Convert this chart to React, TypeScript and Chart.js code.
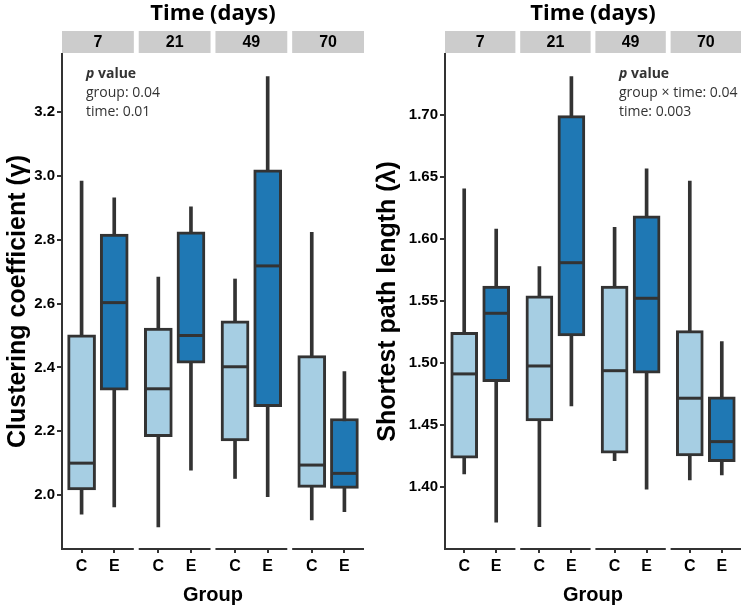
import React, { useEffect, useRef } from "react";
import { Chart, registerables } from "chart.js";

Chart.register(...registerables);

// ---------------- data ----------------
const facetLabels = ["7", "21", "49", "70"];
const groupLabels = ["C", "E"];
// order of values: 7C, 7E, 21C, 21E, 49C, 49E, 70C, 70E
const clusteringLow = [1.94, 1.963, 1.9, 2.078, 2.052, 1.995, 1.922, 1.948];
const clusteringQ1 = [2.016, 2.329, 2.183, 2.413, 2.17, 2.277, 2.024, 2.021];
const clusteringMedian = [2.1, 2.603, 2.333, 2.5, 2.402, 2.718, 2.094, 2.068];
const clusteringQ3 = [2.502, 2.818, 2.523, 2.825, 2.546, 3.019, 2.437, 2.24];
const clusteringHigh = [2.984, 2.931, 2.683, 2.903, 2.677, 3.311, 2.823, 2.387];
const clusteringTicks = [2.0, 2.2, 2.4, 2.6, 2.8, 3.0, 3.2];

const pathLow = [1.4107, 1.3718, 1.3682, 1.4656, 1.4215, 1.3984, 1.4059, 1.4099];
const pathQ1 = [1.4234, 1.4852, 1.4535, 1.522, 1.4274, 1.4919, 1.4252, 1.4207];
const pathMedian = [1.4914, 1.5403, 1.4978, 1.5811, 1.494, 1.5524, 1.4718, 1.4368];
const pathQ3 = [1.525, 1.5623, 1.5543, 1.6997, 1.5623, 1.6188, 1.5263, 1.473];
const pathHigh = [1.6406, 1.6083, 1.5779, 1.7311, 1.6097, 1.6567, 1.647, 1.5174];
const pathTicks = [1.4, 1.45, 1.5, 1.55, 1.6, 1.65, 1.7];

const clusteringNotes = [["p value"], "group: 0.04", "time: 0.01"];
const pathNotes = [["p value"], "group × time: 0.04", "time: 0.003"];

// ---------------- layout ----------------
const FACET_UNITS = 2.2;
const GAP_UNITS = 0.15;
const facetStart = (k: number) => k * (FACET_UNITS + GAP_UNITS);
const positions = facetLabels.flatMap((_, k) =>
  groupLabels.map((_, g) => facetStart(k) + 0.6 + g)
);
const X_MAX = facetStart(facetLabels.length - 1) + FACET_UNITS;

const LIGHT = "#a6cee3";
const DARK = "#1f78b4";
const LINE = "#333333";
const TEXT = "#000000";
const SANS = '"Liberation Sans", Arial, sans-serif';
const OPEN = '"Open Sans", sans-serif';

type PanelProps = {
  low: number[];
  q1: number[];
  med: number[];
  q3: number[];
  high: number[];
  ticks: number[];
  yMin: number;
  yMax: number;
  decimals: number;
  yTitle: string;
  notes: (string | string[])[];
  noteX: number;
  axisWidth: number;
  rightPad: number;
  barThickness: number;
  titlePad: number;
};

function Panel(p: PanelProps) {
  const ref = useRef<HTMLCanvasElement | null>(null);
  useEffect(() => {
    if (!ref.current) return;
    const boxColors = positions.map((_, i) => (i % 2 === 0 ? LIGHT : DARK));
    const decor = {
      id: "decor",
      afterDatasetsDraw(chart: any) {
        const { ctx, scales } = chart;
        const xs = scales.x;
        const ys = scales.y;
        ctx.save();
        ctx.strokeStyle = LINE;
        ctx.lineWidth = 3;
        positions.forEach((pos, i) => {
          const cx = xs.getPixelForValue(pos);
          const cy = ys.getPixelForValue(p.med[i]);
          ctx.beginPath();
          ctx.moveTo(cx - p.barThickness / 2 + 1, cy);
          ctx.lineTo(cx + p.barThickness / 2 - 1, cy);
          ctx.stroke();
        });
        ctx.restore();
      },
      afterDraw(chart: any) {
        const { ctx, scales, chartArea } = chart;
        const xs = scales.x;
        ctx.save();
        ctx.strokeStyle = LINE;
        ctx.lineWidth = 2;
        facetLabels.forEach((lab, k) => {
          const x0 = xs.getPixelForValue(facetStart(k));
          const x1 = xs.getPixelForValue(facetStart(k) + FACET_UNITS);
          // facet axis segment
          ctx.beginPath();
          ctx.moveTo(x0, chartArea.bottom);
          ctx.lineTo(x1, chartArea.bottom);
          ctx.stroke();
          // strip
          ctx.fillStyle = "#cccccc";
          ctx.fillRect(x0, 31, x1 - x0, 22);
          ctx.fillStyle = TEXT;
          ctx.font = `bold 16px ${SANS}`;
          ctx.textAlign = "center";
          ctx.textBaseline = "middle";
          ctx.fillText(lab, (x0 + x1) / 2, 42.5);
        });
        // top title
        ctx.fillStyle = TEXT;
        ctx.font = `bold 22px ${OPEN}`;
        ctx.textAlign = "center";
        ctx.textBaseline = "middle";
        ctx.fillText("Time (days)", (chartArea.left + chartArea.right) / 2, 14);
        // notes
        ctx.textAlign = "left";
        ctx.fillStyle = "#333333";
        p.notes.forEach((n, i) => {
          const y = 74 + i * 19;
          if (Array.isArray(n)) {
            ctx.font = `italic bold 14px ${OPEN}`;
            ctx.fillText("p", p.noteX, y);
            const w = ctx.measureText("p").width;
            ctx.font = `bold 14px ${OPEN}`;
            ctx.fillText(" value", p.noteX + w, y);
          } else {
            ctx.font = `14px ${OPEN}`;
            ctx.fillText(n, p.noteX, y);
          }
        });
        ctx.restore();
      },
    };

    const chart = new Chart(ref.current, {
      type: "bar",
      data: {
        datasets: [
          {
            label: "box",
            order: 0,
            grouped: false,
            barThickness: p.barThickness,
            data: positions.map((x, i) => ({ x, y: [p.q1[i], p.q3[i]] })) as any,
            backgroundColor: boxColors,
            borderColor: LINE,
            borderWidth: 3,
            borderSkipped: false,
          },
          {
            label: "whisker",
            order: 1,
            grouped: false,
            barThickness: 3,
            data: positions.map((x, i) => ({ x, y: [p.low[i], p.high[i]] })) as any,
            backgroundColor: LINE,
            borderWidth: 0,
          },
        ],
      },
      options: {
        animation: false,
        responsive: false,
        maintainAspectRatio: false,
        layout: { padding: { top: 54, right: p.rightPad, left: 0, bottom: 0 } },
        plugins: { legend: { display: false }, tooltip: { enabled: false } },
        scales: {
          x: {
            type: "linear",
            min: 0,
            max: X_MAX,
            offset: false,
            afterBuildTicks: (s: any) => {
              s.ticks = positions.map((v) => ({ value: v }));
            },
            afterFit: (s: any) => {
              s.height = 61;
            },
            ticks: {
              autoSkip: false,
              maxRotation: 0,
              padding: 4,
              color: TEXT,
              font: { family: SANS, size: 16, weight: "bold" },
              callback: (_v: any, i: number) => groupLabels[i % 2],
            },
            grid: {
              display: true,
              offset: false,
              drawOnChartArea: false,
              drawTicks: true,
              tickLength: 4,
              color: LINE,
              lineWidth: 2,
            },
            border: { display: false },
            title: {
              display: true,
              text: "Group",
              color: TEXT,
              font: { family: SANS, size: 20, weight: "bold" },
              padding: { top: 0, bottom: 3 },
            },
          },
          y: {
            type: "linear",
            min: p.yMin,
            max: p.yMax,
            afterBuildTicks: (s: any) => {
              s.ticks = p.ticks.map((v) => ({ value: v }));
            },
            afterFit: (s: any) => {
              s.width = p.axisWidth;
            },
            ticks: {
              padding: 2,
              color: TEXT,
              font: { family: SANS, size: 15, weight: "bold" },
              callback: (v: any) => Number(v).toFixed(p.decimals),
            },
            grid: {
              display: true,
              offset: false,
              drawOnChartArea: false,
              drawTicks: true,
              tickLength: 5,
              color: LINE,
              lineWidth: 2,
            },
            border: { display: true, color: LINE, width: 2 },
            title: {
              display: true,
              text: p.yTitle,
              color: TEXT,
              font: { family: SANS, size: 25, weight: "bold" },
              padding: { top: p.titlePad, bottom: 0 },
            },
          },
        },
      },
      plugins: [decor],
    } as any);
    return () => chart.destroy();
  }, []);
  return <canvas ref={ref} width={373} height={610} style={{ display: "block" }} />;
}

export default function App() {
  return (
    <div style={{ position: "absolute", left: 0, top: 0, width: 746, height: 610, background: "#fff" }}>
      <div style={{ position: "absolute", left: 0, top: 0 }}>
        <Panel
          low={clusteringLow}
          q1={clusteringQ1}
          med={clusteringMedian}
          q3={clusteringQ3}
          high={clusteringHigh}
          ticks={clusteringTicks}
          yMin={1.831}
          yMax={3.382}
          decimals={1}
          yTitle="Clustering coefficient (γ)"
          notes={clusteringNotes}
          noteX={86}
          axisWidth={62}
          rightPad={9}
          barThickness={28}
          titlePad={3}
        />
      </div>
      <div style={{ position: "absolute", left: 373, top: 0 }}>
        <Panel
          low={pathLow}
          q1={pathQ1}
          med={pathMedian}
          q3={pathQ3}
          high={pathHigh}
          ticks={pathTicks}
          yMin={1.3502}
          yMax={1.7494}
          decimals={2}
          yTitle="Shortest path length (λ)"
          notes={pathNotes}
          noteX={246}
          axisWidth={72}
          rightPad={5}
          barThickness={27}
          titlePad={0}
        />
      </div>
    </div>
  );
}
